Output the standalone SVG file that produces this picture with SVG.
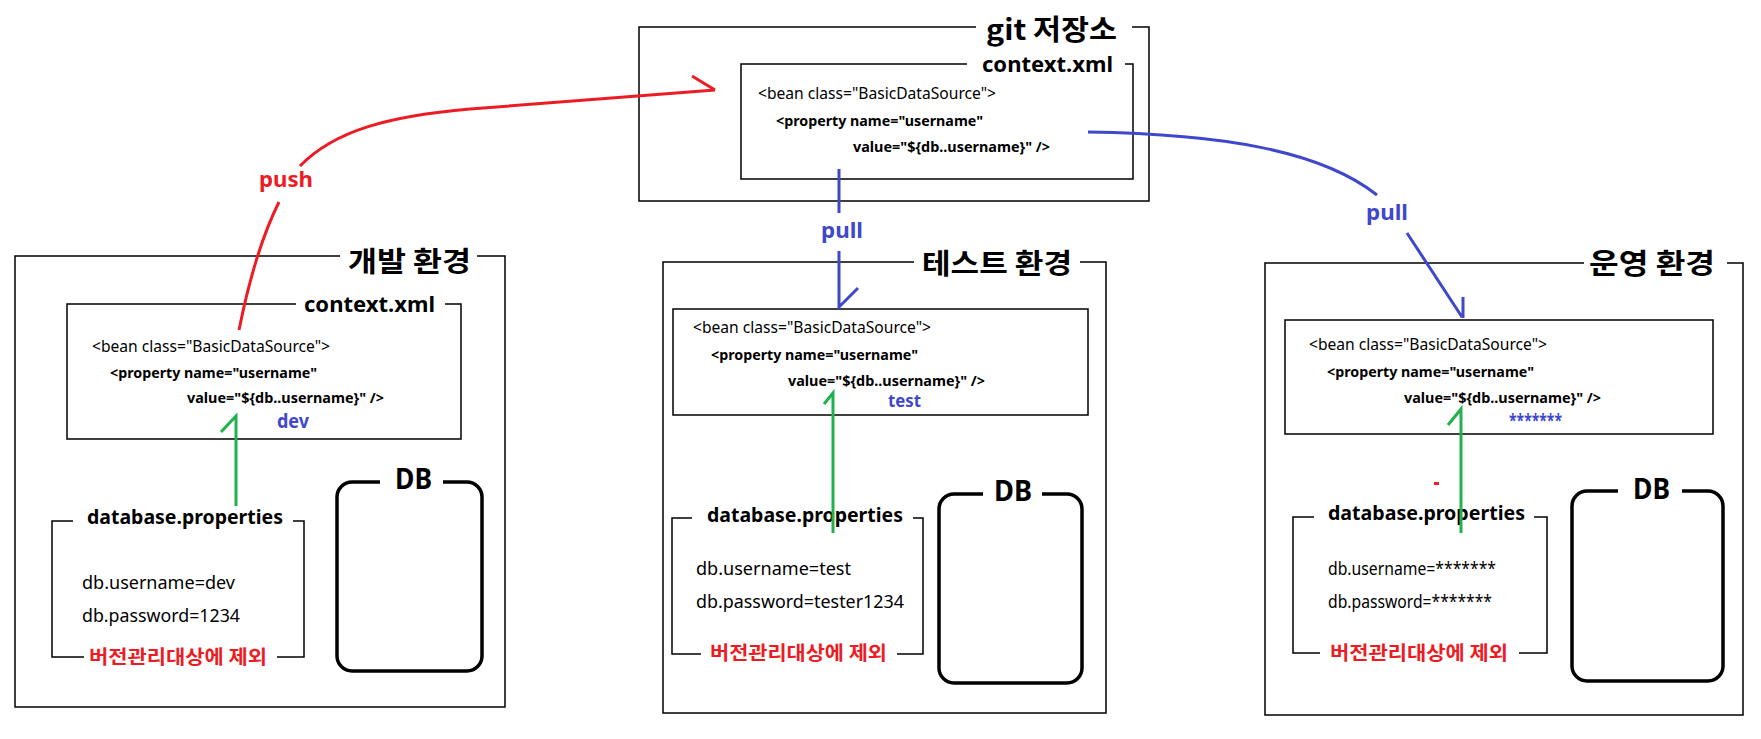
<svg xmlns="http://www.w3.org/2000/svg" width="1761" height="739" viewBox="0 0 1761 739">
<style>
text{font-family:"Noto Sans","Noto Sans CJK KR",sans-serif;fill:#000}
.ko{font-family:"Noto Sans CJK KR","Noto Sans",sans-serif}
.frame{fill:none;stroke:#000;stroke-width:1.5}
.db{fill:none;stroke:#000;stroke-width:3.5}
.envt{font-size:28px;font-weight:bold}
.ctxt{font-size:22px;font-weight:bold}
.bean{font-size:16px}
.prop{font-size:15px;font-weight:bold}
.val{font-size:19px;font-weight:bold;fill:#3F48CC}
.dpt{font-size:19px;font-weight:bold}
.kv{font-size:18px}
.ex{font-size:19px;font-weight:bold;fill:#ED1C24}
.dbt{font-size:28px;font-weight:bold}
.lbl{font-size:21px;font-weight:bold}
.red{fill:none;stroke:#ED1C24;stroke-width:3}
.blue{fill:none;stroke:#3F48CC;stroke-width:3}
.green{fill:none;stroke:#22B14C;stroke-width:3}
</style>
<rect width="1761" height="739" fill="#fff"/>

<g id="git">
  <path class="frame" d="M976,27 L639,27 L639,201 L1149,201 L1149,27 L1132,27"/>
  <text class="envt ko" x="986" y="40" textLength="131" lengthAdjust="spacingAndGlyphs">git 저장소</text>
  <g id="git-context">
    <path class="frame" d="M967,64 L741,64 L741,179 L1133,179 L1133,64 L1125,64"/>
    <text class="ctxt" x="982" y="72" textLength="131" lengthAdjust="spacingAndGlyphs">context.xml</text>
    <text class="bean" x="758" y="99" textLength="238" lengthAdjust="spacingAndGlyphs">&lt;bean class="BasicDataSource"&gt;</text>
    <text class="prop" x="776" y="126" textLength="207" lengthAdjust="spacingAndGlyphs">&lt;property name="username"</text>
    <text class="prop" x="853" y="152" textLength="197" lengthAdjust="spacingAndGlyphs">value="${db..username}" /&gt;</text>
  </g>
</g>

<g id="dev">
  <path class="frame" d="M340,256 L15,256 L15,707 L505,707 L505,256 L477,256"/>
  <text class="envt ko" x="348" y="272" textLength="123" lengthAdjust="spacingAndGlyphs">개발 환경</text>
  <g id="dev-context">
    <path class="frame" d="M296,304 L67,304 L67,439 L461,439 L461,304 L445,304"/>
    <text class="ctxt" x="304" y="312" textLength="131" lengthAdjust="spacingAndGlyphs">context.xml</text>
    <text class="bean" x="92" y="352" textLength="238" lengthAdjust="spacingAndGlyphs">&lt;bean class="BasicDataSource"&gt;</text>
    <text class="prop" x="110" y="378" textLength="207" lengthAdjust="spacingAndGlyphs">&lt;property name="username"</text>
    <text class="prop" x="187" y="403" textLength="197" lengthAdjust="spacingAndGlyphs">value="${db..username}" /&gt;</text>
    <text class="val" x="277" y="428" textLength="32" lengthAdjust="spacingAndGlyphs">dev</text>
  </g>
  <g id="dev-props">
    <path class="frame" d="M73,521 L52,521 L52,657 L84,657 M277,657 L304,657 L304,521 L293,521"/>
    <text class="dpt" x="87" y="524" textLength="196" lengthAdjust="spacingAndGlyphs">database.properties</text>
    <text class="kv" x="82" y="589" textLength="153" lengthAdjust="spacingAndGlyphs">db.username=dev</text>
    <text class="kv" x="82" y="622" textLength="158" lengthAdjust="spacingAndGlyphs">db.password=1234</text>
    <text class="ex ko" x="89" y="664" textLength="178" lengthAdjust="spacingAndGlyphs">버전관리대상에 제외</text>
  </g>
  <g id="dev-db">
    <path class="db" d="M380,482 L352,482 A15,15 0 0 0 337,497 L337,656 A15,15 0 0 0 352,671 L467,671 A15,15 0 0 0 482,656 L482,497 A15,15 0 0 0 467,482 L443,482"/>
    <text class="dbt" x="395" y="489" textLength="37" lengthAdjust="spacingAndGlyphs">DB</text>
  </g>
</g>

<g id="test">
  <path class="frame" d="M914,262 L663,262 L663,713 L1106,713 L1106,262 L1080,262"/>
  <text class="envt ko" x="922" y="274" textLength="150" lengthAdjust="spacingAndGlyphs">테스트 환경</text>
  <g id="test-context">
    <rect class="frame" x="673" y="309" width="415" height="106"/>
    <text class="bean" x="693" y="333" textLength="238" lengthAdjust="spacingAndGlyphs">&lt;bean class="BasicDataSource"&gt;</text>
    <text class="prop" x="711" y="360" textLength="207" lengthAdjust="spacingAndGlyphs">&lt;property name="username"</text>
    <text class="prop" x="788" y="386" textLength="197" lengthAdjust="spacingAndGlyphs">value="${db..username}" /&gt;</text>
    <text class="val" x="888" y="407" style="font-size:18px" textLength="33" lengthAdjust="spacingAndGlyphs">test</text>
  </g>
  <g id="test-props">
    <path class="frame" d="M692,518 L672,518 L672,654 L701,654 M897,654 L923,654 L923,518 L913,518"/>
    <text class="dpt" x="707" y="522" textLength="196" lengthAdjust="spacingAndGlyphs">database.properties</text>
    <text class="kv" x="696" y="575" textLength="155" lengthAdjust="spacingAndGlyphs">db.username=test</text>
    <text class="kv" x="696" y="608" textLength="208" lengthAdjust="spacingAndGlyphs">db.password=tester1234</text>
    <text class="ex ko" x="710" y="660" textLength="177" lengthAdjust="spacingAndGlyphs">버전관리대상에 제외</text>
  </g>
  <g id="test-db">
    <path class="db" d="M983,494 L954,494 A15,15 0 0 0 939,509 L939,668 A15,15 0 0 0 954,683 L1067,683 A15,15 0 0 0 1082,668 L1082,509 A15,15 0 0 0 1067,494 L1042,494"/>
    <text class="dbt" x="994" y="501" textLength="38" lengthAdjust="spacingAndGlyphs">DB</text>
  </g>
</g>

<g id="prod">
  <path class="frame" d="M1584,263 L1265,263 L1265,715 L1743,715 L1743,263 L1727,263"/>
  <text class="envt ko" x="1589" y="274" textLength="126" lengthAdjust="spacingAndGlyphs">운영 환경</text>
  <g id="prod-context">
    <rect class="frame" x="1285" y="320" width="428" height="114"/>
    <text class="bean" x="1309" y="350" textLength="238" lengthAdjust="spacingAndGlyphs">&lt;bean class="BasicDataSource"&gt;</text>
    <text class="prop" x="1327" y="377" textLength="207" lengthAdjust="spacingAndGlyphs">&lt;property name="username"</text>
    <text class="prop" x="1404" y="403" textLength="197" lengthAdjust="spacingAndGlyphs">value="${db..username}" /&gt;</text>
    <text class="val" x="1509" y="427" style="font-size:17px" textLength="53" lengthAdjust="spacingAndGlyphs">*******</text>
  </g>
  <rect x="1434" y="482" width="5" height="3" fill="#ED1C24"/>
  <g id="prod-props">
    <path class="frame" d="M1314,517 L1293,517 L1293,653 L1320,653 M1519,653 L1547,653 L1547,517 L1534,517"/>
    <text class="dpt" x="1328" y="520" textLength="197" lengthAdjust="spacingAndGlyphs">database.properties</text>
    <text class="kv" x="1328" y="575" textLength="168" lengthAdjust="spacingAndGlyphs">db.username=*******</text>
    <text class="kv" x="1328" y="608" textLength="164" lengthAdjust="spacingAndGlyphs">db.password=*******</text>
    <text class="ex ko" x="1330" y="660" textLength="178" lengthAdjust="spacingAndGlyphs">버전관리대상에 제외</text>
  </g>
  <g id="prod-db">
    <path class="db" d="M1618,491 L1587,491 A15,15 0 0 0 1572,506 L1572,666 A15,15 0 0 0 1587,681 L1708,681 A15,15 0 0 0 1723,666 L1723,506 A15,15 0 0 0 1708,491 L1682,491"/>
    <text class="dbt" x="1633" y="499" textLength="37" lengthAdjust="spacingAndGlyphs">DB</text>
  </g>
</g>

<g id="connectors">
  <path class="red" d="M239,330 Q255,250 279,202"/>
  <path class="red" d="M300,166 C335,130 390,116 470,109 L715,90"/>
  <path class="red" d="M692,76 L715,90"/>
  <text class="lbl" x="259" y="187" style="fill:#ED1C24" textLength="54" lengthAdjust="spacingAndGlyphs">push</text>

  <path class="blue" d="M839,169 L839,213 M839,251 L839,307 L858,288"/>
  <text class="lbl" x="821" y="238" style="fill:#3F48CC" textLength="42" lengthAdjust="spacingAndGlyphs">pull</text>

  <path class="blue" d="M1088,132 C1220,134 1320,150 1377,195"/>
  <path class="blue" d="M1407,233 L1462,317 M1463,297 L1463,318"/>
  <text class="lbl" x="1366" y="220" style="fill:#3F48CC" textLength="42" lengthAdjust="spacingAndGlyphs">pull</text>

  <path class="green" d="M236,506 L236,416 L221,432"/>
  <path class="green" d="M833,533 L833,393 L824,404"/>
  <path class="green" d="M1461,533 L1461,409 L1448,425"/>
</g>
</svg>
